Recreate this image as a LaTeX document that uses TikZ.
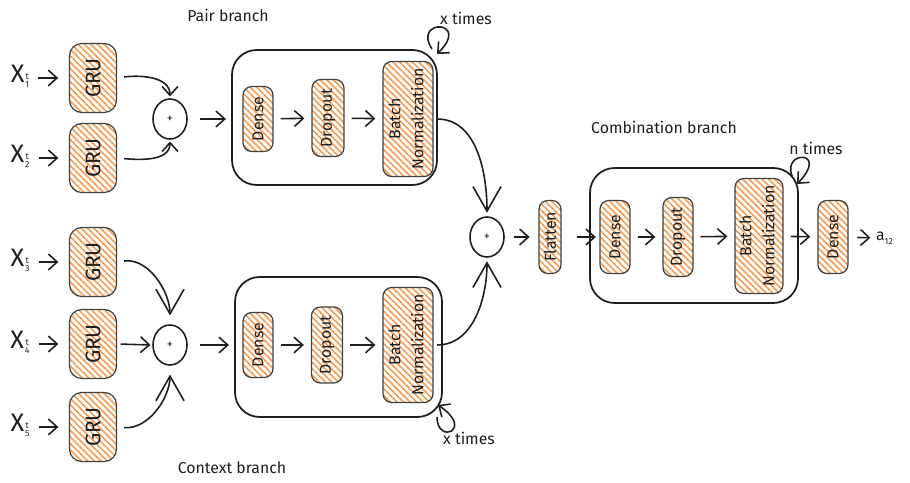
\documentclass[tikz,border=0pt]{standalone}
\usepackage{fontspec}
\setmainfont{Fira Sans}
\usetikzlibrary{arrows.meta,patterns.meta,shapes.geometric}
\definecolor{ink}{HTML}{1E1E1E}
\definecolor{hatch}{HTML}{F79A4E}
\newcommand{\xlab}[1]{X\kern0.5pt\raisebox{-0.1ex}{\tiny\begin{tabular}{@{}c@{}}t\\[-1pt]#1\end{tabular}}}
\tikzset{
 layer/.style={draw=ink!85, line width=0.7pt, rounded corners=5pt,
   pattern={Lines[angle=-45,distance=2.6pt,line width=0.9pt]}, pattern color=hatch,
   inner sep=0pt, text=ink, font=\small},
 grubox/.style={layer, minimum width=0.94cm, minimum height=1.38cm, font=\large, rounded corners=7pt},
 group/.style={draw=ink, line width=1pt, rounded corners=14pt},
 plus/.style={draw=ink, line width=0.9pt, ellipse, minimum width=0.68cm, minimum height=0.8cm, inner sep=0pt, font=\scriptsize, text=ink},
 arr/.style={draw=ink, line width=0.9pt, -{Straight Barb[length=5pt,width=9pt]}},
 bigarr/.style={draw=ink, line width=0.9pt, -{Straight Barb[length=14pt,width=16pt]}},
 lbl/.style={text=ink, font=\small},
 xin/.style={text=ink, font=\Large, inner sep=1pt}
}
\begin{document}
\begin{tikzpicture}[x=0.02cm,y=-0.02cm]
\useasboundingbox (0,0) rectangle (910,483);

% inputs
\node[xin] (x1) at (20,78) {\xlab{1}};
\node[xin] (x2) at (20,158) {\xlab{2}};
\node[xin] (x3) at (20,262) {\xlab{3}};
\node[xin] (x4) at (20,344) {\xlab{4}};
\node[xin] (x5) at (20,427) {\xlab{5}};

\node[grubox] (g1) at (93,78) {\rotatebox{90}{GRU}};
\node[grubox] (g2) at (93,158) {\rotatebox{90}{GRU}};
\node[grubox] (g3) at (93,262) {\rotatebox{90}{GRU}};
\node[grubox] (g4) at (93,344) {\rotatebox{90}{GRU}};
\node[grubox] (g5) at (93,427) {\rotatebox{90}{GRU}};

\foreach \i in {1,...,5}{\draw[arr, shorten <=4pt, shorten >=6pt] (x\i.east) -- (g\i.west);}

% plus nodes
\node[plus] (p1) at (170,119) {+};
\node[plus] (p2) at (170,345) {+};
\node[plus] (pc) at (487,237) {+};

\draw[arr, shorten <=4pt, shorten >=1pt] (g1.east) to[out=8,in=90] (p1.north);
\draw[arr, shorten <=4pt, shorten >=1pt] (g2.east) to[out=-5,in=-90] (p1.south);
\draw[bigarr, shorten <=4pt, shorten >=5pt] (g3.east) to[out=8,in=90] (p2.north);
\draw[arr, shorten <=2pt, shorten >=1pt] (g4.east) -- (p2.west);
\draw[bigarr, shorten <=4pt, shorten >=5pt] (g5.east) to[out=-5,in=-90] (p2.south);

% pair branch
\node[group, minimum width=4.1cm, minimum height=2.7cm] (pb) at (334.5,117.5) {};
\node[layer, minimum width=0.6cm, minimum height=1.3cm] (d1) at (258,119) {\rotatebox{90}{Dense}};
\node[layer, minimum width=0.64cm, minimum height=1.54cm] (o1) at (328,118) {\rotatebox{90}{Dropout}};
\node[layer, minimum width=1.0cm, minimum height=2.3cm] (b1) at (408,119) {\rotatebox{90}{\begin{tabular}{@{}c@{}}Batch\\[2pt]Normalization\end{tabular}}};
\draw[arr, shorten <=7pt, shorten >=3pt] (p1.east) -- (pb.west |- p1.east);
\draw[arr, shorten <=4pt, shorten >=4pt] (d1) -- (o1);
\draw[arr, shorten <=4pt, shorten >=4pt] (o1) -- (b1);
\node[lbl] (t1) at (228,15) {Pair branch};
\node[lbl] (l1) at (466,18) {x times};
\coordinate (l1s) at (432,49);
\coordinate (l1e) at (437,54);
\draw[arr] (l1s) .. controls (412,18) and (472,20) .. (l1e);

% context branch
\node[group, minimum width=4.14cm, minimum height=2.8cm] (cb) at (338.5,347) {};
\node[layer, minimum width=0.6cm, minimum height=1.3cm] (d2) at (258,345) {\rotatebox{90}{Dense}};
\node[layer, minimum width=0.62cm, minimum height=1.52cm] (o2) at (327,345) {\rotatebox{90}{Dropout}};
\node[layer, minimum width=1.0cm, minimum height=2.3cm] (b2) at (408,345) {\rotatebox{90}{\begin{tabular}{@{}c@{}}Batch\\[2pt]Normalization\end{tabular}}};
\draw[arr, shorten <=7pt, shorten >=3pt] (p2.east) -- (cb.west |- p2.east);
\draw[arr, shorten <=4pt, shorten >=4pt] (d2) -- (o2);
\draw[arr, shorten <=4pt, shorten >=4pt] (o2) -- (b2);
\node[lbl] (t2) at (232,468) {Context branch};
\node[lbl] (l2) at (469,438) {x times};
\coordinate (l2s) at (437,417);
\coordinate (l2e) at (438,405);
\draw[arr] (l2s) .. controls (437,445) and (475,430) .. (l2e);

% merge
\draw[bigarr, shorten <=2pt, shorten >=2pt] (b1.east) to[out=0,in=90] (pc.north);
\draw[bigarr, shorten <=2pt, shorten >=2pt] (b2.east) to[out=0,in=-90] (pc.south);

% combination branch
\node[layer, minimum width=0.44cm, minimum height=1.46cm] (fl) at (550,237) {\rotatebox{90}{Flatten}};
\node[group, minimum width=4.16cm, minimum height=2.7cm] (mb) at (694,235.5) {};
\node[layer, minimum width=0.6cm, minimum height=1.46cm] (d3) at (615,237) {\rotatebox{90}{Dense}};
\node[layer, minimum width=0.6cm, minimum height=1.58cm] (o3) at (678,237) {\rotatebox{90}{Dropout}};
\node[layer, minimum width=0.96cm, minimum height=2.3cm] (b3) at (759,236) {\rotatebox{90}{\begin{tabular}{@{}c@{}}Batch\\[2pt]Normalization\end{tabular}}};
\node[layer, minimum width=0.6cm, minimum height=1.46cm] (d4) at (833,237) {\rotatebox{90}{Dense}};
\node[lbl, anchor=west, inner sep=1pt] (out) at (874,238) {a\raisebox{-0.5ex}{\tiny 12}};
\draw[arr, shorten <=5pt, shorten >=5pt] (pc.east) -- (fl.west |- pc.east);
\draw[arr, shorten <=9pt, shorten >=2pt] (fl) -- (d3);
\draw[arr, shorten <=4pt, shorten >=4pt] (d3) -- (o3);
\draw[arr, shorten <=4pt, shorten >=4pt] (o3) -- (b3);
\draw[arr, shorten <=4pt, shorten >=4pt] (b3) -- (d4);
\draw[arr, shorten <=5pt, shorten >=2pt] (d4) -- (out);
\node[lbl] (t3) at (664,127) {Combination branch};
\node[lbl] (l3) at (816,148) {n times};
\coordinate (l3s) at (792,176);
\coordinate (l3e) at (797,184);
\draw[arr] (l3s) .. controls (782,150) and (830,150) .. (l3e);
\end{tikzpicture}
\end{document}
